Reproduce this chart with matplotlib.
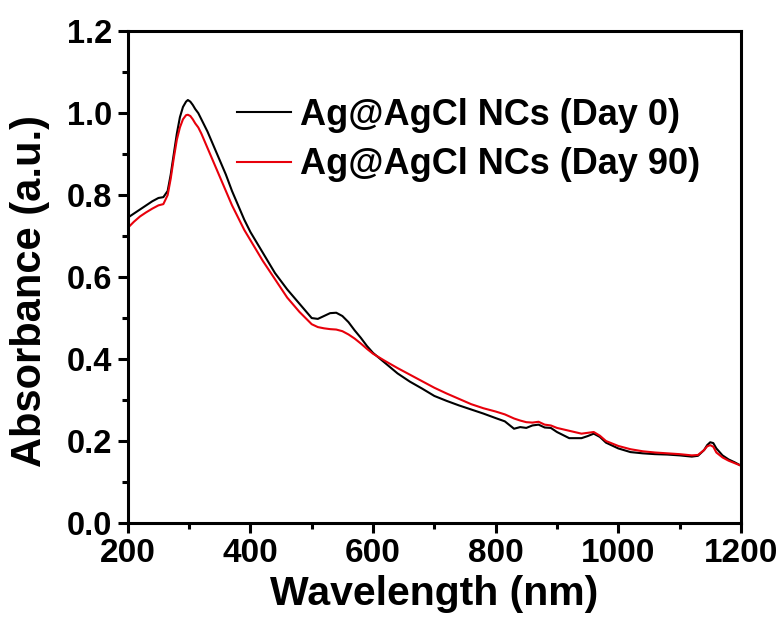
import numpy as np
import matplotlib
matplotlib.use("Agg")
import matplotlib.pyplot as plt
from matplotlib.ticker import MultipleLocator, FormatStrFormatter

# wavelength grid (nm)
wl = [200, 210, 220, 230, 240, 250, 258, 265, 270, 275, 280, 285, 290, 295,
      298, 302, 306, 310, 315, 320, 330, 340, 350, 360, 370, 380, 390, 400,
      420, 440, 460, 480, 500, 510, 520, 530, 540, 550, 560, 570, 580, 590,
      600, 620, 640, 660, 680, 700, 720, 740, 760, 780, 800, 815, 830, 840,
      850, 860, 870, 880, 890, 900, 920, 940, 950, 960, 970, 980, 1000, 1020,
      1040, 1060, 1080, 1100, 1120, 1130, 1140, 1145, 1150, 1155, 1160, 1170,
      1180, 1190, 1200]

day0 = [0.745, 0.755, 0.765, 0.775, 0.785, 0.793, 0.795, 0.81, 0.85, 0.90,
        0.95, 0.99, 1.015, 1.028, 1.032, 1.028, 1.02, 1.01, 1.0, 0.985,
        0.955, 0.92, 0.885, 0.85, 0.81, 0.775, 0.74, 0.71, 0.66, 0.61,
        0.57, 0.535, 0.50, 0.498, 0.505, 0.512, 0.513, 0.505, 0.49, 0.47,
        0.452, 0.432, 0.415, 0.39, 0.365, 0.345, 0.328, 0.31, 0.298, 0.287,
        0.277, 0.267, 0.256, 0.248, 0.23, 0.234, 0.232, 0.238, 0.24, 0.233,
        0.232, 0.222, 0.207, 0.207, 0.212, 0.218, 0.21, 0.196, 0.182, 0.173,
        0.170, 0.168, 0.167, 0.165, 0.162, 0.164, 0.178, 0.19, 0.197, 0.195,
        0.182, 0.165, 0.155, 0.148, 0.14]

day90 = [0.72, 0.735, 0.748, 0.758, 0.767, 0.775, 0.778, 0.80, 0.84, 0.89,
         0.935, 0.965, 0.985, 0.995, 0.996, 0.993, 0.985, 0.975, 0.965, 0.95,
         0.915, 0.88, 0.845, 0.81, 0.775, 0.745, 0.715, 0.69, 0.64, 0.595,
         0.55, 0.515, 0.485, 0.478, 0.475, 0.473, 0.472, 0.468, 0.46, 0.45,
         0.438, 0.425, 0.413, 0.395, 0.378, 0.362, 0.346, 0.33, 0.316, 0.303,
         0.29, 0.28, 0.272, 0.265, 0.255, 0.25, 0.246, 0.245, 0.247, 0.24,
         0.238, 0.232, 0.225, 0.218, 0.22, 0.222, 0.213, 0.2, 0.188, 0.18,
         0.175, 0.172, 0.17, 0.168, 0.165, 0.166, 0.178, 0.187, 0.19, 0.186,
         0.172, 0.16, 0.152, 0.146, 0.14]

labels = ["Ag@AgCl NCs (Day 0)", "Ag@AgCl NCs (Day 90)"]

plt.rcParams['font.family'] = ['Liberation Sans', 'DejaVu Sans']
plt.rcParams['font.weight'] = 'bold'

fig = plt.figure(figsize=(7.84, 6.23), dpi=100)
ax = fig.add_axes([0.163, 0.1605, 0.782, 0.7895])

ax.plot(wl, day0, color='black', lw=1.5, label=labels[0])
ax.plot(wl, day90, color='#e8000b', lw=1.5, label=labels[1])

ax.set_xlim(200, 1200)
ax.set_ylim(0, 1.2)
ax.xaxis.set_major_locator(MultipleLocator(200))
ax.xaxis.set_minor_locator(MultipleLocator(100))
ax.yaxis.set_major_locator(MultipleLocator(0.2))
ax.yaxis.set_minor_locator(MultipleLocator(0.1))
ax.yaxis.set_major_formatter(FormatStrFormatter('%.1f'))

for s in ax.spines.values():
    s.set_linewidth(2.2)
ax.tick_params(which='major', direction='out', length=7, width=2.2, pad=4)
ax.tick_params(axis='x', which='major', labelsize=24)
ax.tick_params(axis='y', which='major', labelsize=23.5)
ax.tick_params(which='minor', direction='out', length=4.5, width=2.2)

ax.set_xlabel("Wavelength (nm)", fontsize=29.5, fontweight='bold', labelpad=4)
ax.set_ylabel("Absorbance (a.u.)", fontsize=30, fontweight='bold')
ax.yaxis.set_label_coords(-0.127, 0.472)

leg = ax.legend(loc='upper left', bbox_to_anchor=(0.178, 0.864), frameon=False,
                fontsize=26, handlelength=1.5, handletextpad=0.25,
                labelspacing=0.4, borderpad=0, borderaxespad=0)
for t in leg.get_texts():
    t.set_fontweight('bold')

fig.savefig("out.png", dpi=100)
